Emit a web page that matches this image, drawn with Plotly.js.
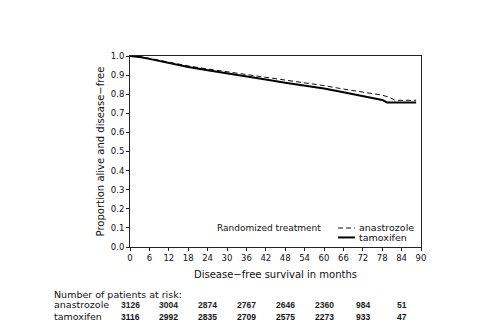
<!DOCTYPE html>
<html>
<head>
<meta charset="utf-8">
<script src="https://cdn.plot.ly/plotly-3.0.1.min.js"></script>
<style>html,body{margin:0;padding:0;background:#fff;}#chart{width:480px;height:334px;}</style>
</head>
<body>
<div id="chart"></div>
<script>
// Kaplan-Meier style curves (months, proportion alive and disease-free)
const anaMonths = [0, 3, 6, 12, 18, 24, 30, 36, 42, 48, 54, 60, 66, 72, 78, 80, 82, 88.5];
const anaValues = [1.0, 0.996, 0.988, 0.967, 0.948, 0.932, 0.918, 0.903, 0.888, 0.873, 0.86, 0.845, 0.827, 0.81, 0.795, 0.785, 0.768, 0.768];
const tamMonths = [0, 3, 6, 12, 18, 24, 30, 36, 42, 48, 54, 60, 66, 72, 78, 79.5, 88.5];
const tamValues = [1.0, 0.995, 0.985, 0.962, 0.942, 0.925, 0.91, 0.893, 0.877, 0.86, 0.845, 0.83, 0.81, 0.79, 0.77, 0.757, 0.757];

// Number at risk table
const riskMonths = [0, 12, 24, 36, 48, 60, 72, 84];
const riskAna = [3126, 3004, 2874, 2767, 2646, 2360, 984, 51];
const riskTam = [3116, 2992, 2835, 2709, 2575, 2273, 933, 47];

const seriesNames = ['anastrozole', 'tamoxifen'];
const legendTitle = 'Randomized treatment';
const riskTitle = 'Number of patients at risk:';

const FONT = 'DejaVu Sans, sans-serif';
const NUMFONT = 'Liberation Sans, Arial, sans-serif';
const INK = '#111';

const traces = [
  {x: anaMonths, y: anaValues, mode: 'lines', name: seriesNames[0],
   line: {color: '#111', width: 1, dash: '5px,3px'}},
  {x: tamMonths, y: tamValues, mode: 'lines', name: seriesNames[1],
   line: {color: '#000', width: 2}}
];

const annotations = [
  {text: legendTitle, xref: 'paper', yref: 'paper', x: 0.292, y: 0.0995,
   xanchor: 'left', yanchor: 'middle', showarrow: false, font: {family: FONT, size: 9, color: INK}},
  {text: seriesNames[0], xref: 'paper', yref: 'paper', x: 0.78, y: 0.0995,
   xanchor: 'left', yanchor: 'middle', showarrow: false, font: {family: FONT, size: 9.5, color: INK}},
  {text: seriesNames[1], xref: 'paper', yref: 'paper', x: 0.78, y: 0.050,
   xanchor: 'left', yanchor: 'middle', showarrow: false, font: {family: FONT, size: 9.5, color: INK}},
  {text: riskTitle, xref: 'paper', yref: 'paper', x: -0.268, y: -0.251,
   xanchor: 'left', yanchor: 'middle', showarrow: false, font: {family: FONT, size: 9.5, color: INK}},
  {text: seriesNames[0], xref: 'paper', yref: 'paper', x: -0.268, y: -0.302,
   xanchor: 'left', yanchor: 'middle', showarrow: false, font: {family: FONT, size: 9.5, color: INK}},
  {text: seriesNames[1], xref: 'paper', yref: 'paper', x: -0.268, y: -0.366,
   xanchor: 'left', yanchor: 'middle', showarrow: false, font: {family: FONT, size: 9.5, color: INK}}
];
riskMonths.forEach((m, i) => {
  annotations.push({text: '<b>' + riskAna[i] + '</b>', xref: 'x', yref: 'paper', x: m, y: -0.302,
    xanchor: 'center', yanchor: 'middle', showarrow: false, font: {family: NUMFONT, size: 8.5, color: '#222'}});
  annotations.push({text: '<b>' + riskTam[i] + '</b>', xref: 'x', yref: 'paper', x: m, y: -0.366,
    xanchor: 'center', yanchor: 'middle', showarrow: false, font: {family: NUMFONT, size: 8.5, color: INK}});
});

const shapes = [
  {type: 'line', xref: 'paper', yref: 'paper', x0: 0.715, x1: 0.773, y0: 0.0995, y1: 0.0995,
   line: {color: '#111', width: 1, dash: '5px,3px'}},
  {type: 'line', xref: 'paper', yref: 'paper', x0: 0.715, x1: 0.773, y0: 0.050, y1: 0.050,
   line: {color: '#000', width: 2}}
];

const layout = {
  width: 480, height: 334,
  margin: {l: 130, r: 59, t: 56, b: 87},
  paper_bgcolor: '#fff', plot_bgcolor: '#fff',
  showlegend: false,
  font: {family: FONT, size: 9, color: INK},
  xaxis: {
    range: [0, 90], tick0: 0, dtick: 6, showgrid: false, zeroline: false,
    showline: true, mirror: true, linecolor: '#222', linewidth: 1,
    ticks: 'outside', ticklen: 3, tickcolor: '#222',
    tickfont: {family: FONT, size: 8.5, color: INK},
    title: {text: 'Disease\u2212free survival in months', font: {family: FONT, size: 10, color: INK}, standoff: 8}
  },
  yaxis: {
    range: [0, 1], tick0: 0, dtick: 0.1, tickformat: '.1f', showgrid: false, zeroline: false,
    showline: true, mirror: true, linecolor: '#222', linewidth: 1,
    ticks: 'outside', ticklen: 3, tickcolor: '#222',
    tickfont: {family: FONT, size: 8.5, color: INK},
    title: {text: 'Proportion alive and disease\u2212free', font: {family: FONT, size: 10, color: INK}, standoff: 4}
  },
  annotations: annotations,
  shapes: shapes
};

Plotly.newPlot('chart', traces, layout, {displayModeBar: false, staticPlot: true});
</script>
</body>
</html>
